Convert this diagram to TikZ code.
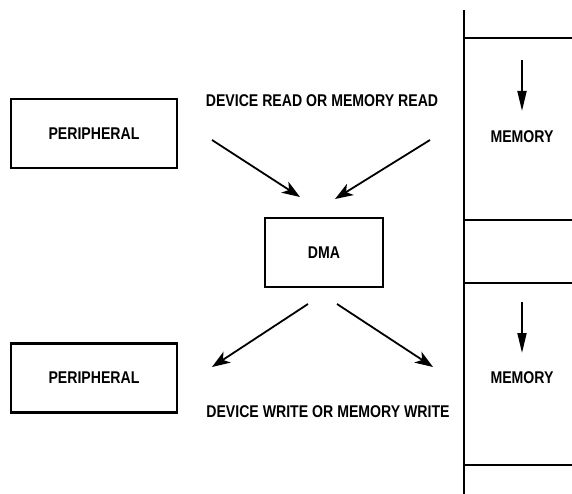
\documentclass[tikz,border=0pt]{standalone}
\usepackage{fontspec}
\newfontfamily\lab[FakeStretch=0.83]{Liberation Sans}
\usetikzlibrary{arrows.meta}
\begin{document}
\begin{tikzpicture}[x=1pt,y=-1pt,
  every node/.style={font=\lab\bfseries\fontsize{17}{19}\selectfont,inner sep=0pt},
  box/.style={draw,line width=2.2pt,minimum width=#1,minimum height=69pt},
  arr/.style={line width=1.8pt,-{Stealth[length=18pt,width=13pt,inset=5pt]}},
  marr/.style={line width=1.8pt,-{Triangle[length=20pt,width=9pt]}},
  mem/.style={line width=2.6pt}]
\useasboundingbox (0,0) rectangle (572,494);
\node[box=166pt] (per1) at (94,133.5) {PERIPHERAL};
\node[box=166pt] (per2) at (94,378) {PERIPHERAL};
\node[box=118pt] (dma) at (324,252.5) {DMA};
\node (rd) at (322,101) {DEVICE READ OR MEMORY READ};
\node (wr) at (328,412) {DEVICE WRITE OR MEMORY WRITE};
% memory column
\coordinate (vt) at (464,10);
\coordinate (vb) at (464,494);
\draw[mem] (vt) -- (vb);
\foreach \y/\n in {38/h1,220/h2,283/h3,465/h4}{
  \coordinate (\n a) at (464,\y); \coordinate (\n b) at (572,\y);
  \draw[mem] (\n a) -- (\n b);}
\node (m1) at (522,137) {MEMORY};
\node (m2) at (522,378) {MEMORY};
\coordinate (ma1) at (522,60); \coordinate (mb1) at (522,111);
\coordinate (ma2) at (522,302); \coordinate (mb2) at (522,353);
\draw[marr] (ma1) -- (mb1);
\draw[marr] (ma2) -- (mb2);
% read arrows
\coordinate (r1s) at (212,140); \coordinate (r1e) at (300,197);
\coordinate (r2s) at (430,140); \coordinate (r2e) at (335,199);
\draw[arr] (r1s) -- (r1e);
\draw[arr] (r2s) -- (r2e);
% write arrows
\coordinate (w1s) at (308,304); \coordinate (w1e) at (212,367);
\coordinate (w2s) at (337,304); \coordinate (w2e) at (433,367);
\draw[arr] (w1s) -- (w1e);
\draw[arr] (w2s) -- (w2e);
\end{tikzpicture}
\end{document}
